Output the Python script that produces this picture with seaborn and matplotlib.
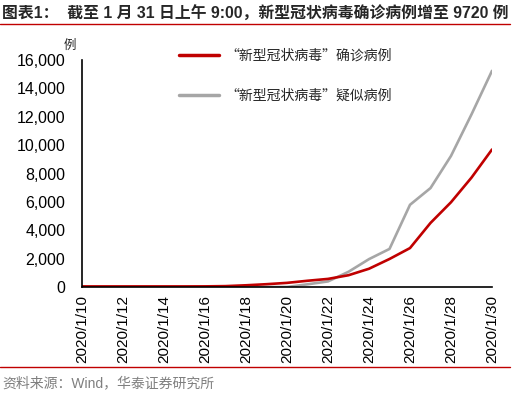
import numpy as np
import pandas as pd
import matplotlib
matplotlib.use("Agg")
import matplotlib.pyplot as plt
import seaborn as sns
from matplotlib.lines import Line2D

# dates shown on x axis
dates = ["2020/1/%d" % d for d in range(10, 31)]

# confirmed cases
confirmed = [41, 41, 41, 41, 41, 41, 45, 62, 121, 198, 291,
             440, 571, 830, 1287, 1975, 2744, 4515, 5974, 7711, 9692]

# suspected cases
suspected = [0, 0, 0, 0, 0, 0, 0, 0, 0, 0, 0,
             190, 393, 1072, 1965, 2684, 5794, 6973, 9239, 12167, 15238]

label_confirmed = "\u201c新型冠状病毒\u201d确诊病例"
label_suspected = "\u201c新型冠状病毒\u201d疑似病例"

df = pd.DataFrame({"idx": np.arange(len(dates)),
                   "confirmed": confirmed,
                   "suspected": suspected})

sns.set_style("white")
plt.rcParams['font.family'] = ['Liberation Sans', 'Noto Sans CJK SC', 'DejaVu Sans']

fig = plt.figure(figsize=(5.14, 3.93), dpi=100)
ax = fig.add_axes([82 / 514, 1 - 287 / 393, 410 / 514, 227 / 393])

red = "#C00000"
grey = "#A6A6A6"

# gray first so red sits on top
sns.lineplot(data=df, x="idx", y="suspected", ax=ax, color=grey, linewidth=1.9)
sns.lineplot(data=df, x="idx", y="confirmed", ax=ax, color=red, linewidth=1.9)

ax.set_xlim(0, len(dates) - 1)
ax.set_ylim(0, 16000)
ax.set_yticks(np.arange(0, 16001, 2000))
ax.set_yticklabels(["{:,}".format(v) for v in range(0, 16001, 2000)], fontsize=11.5)
ax.set_xticks(np.arange(0, len(dates), 2))
ax.set_xticklabels(dates[::2], rotation=90, fontsize=11)
ax.set_xlabel("")
ax.set_ylabel("")

for s in ["top", "right"]:
    ax.spines[s].set_visible(False)
for s in ["left", "bottom"]:
    ax.spines[s].set_color("black")
    ax.spines[s].set_linewidth(1.2)
ax.tick_params(axis="both", direction="out", length=4, width=1.2, color="black",
               labelcolor="black", pad=2)
ax.tick_params(axis="y", pad=8)

ax.text(-0.03, 1.066, "例", transform=ax.transAxes, fontsize=9,
        ha="center", va="center", family=['Noto Sans CJK SC'])

handles = [Line2D([], [], color=red, linewidth=2.5),
           Line2D([], [], color=grey, linewidth=2.5)]
fig.legend(handles, [label_confirmed, label_suspected], loc="upper left",
           bbox_to_anchor=(166 / 514, 1 - 36 / 393), frameon=False,
           handlelength=2.9, handletextpad=0.5, labelspacing=1.9,
           prop={'family': ['Noto Sans CJK SC'], 'size': 10})

# title and rules
fig.text(0.004, 1 - 14 / 393, "图表1：  截至 1 月 31 日上午 9:00，新型冠状病毒确诊病例增至 9720 例",
         fontsize=11.4, fontweight="bold", ha="left", va="center",
         family=['Liberation Sans', 'Noto Sans CJK SC'])
fig.add_artist(Line2D([0.0, 510 / 514], [1 - 24 / 393] * 2, color=red, linewidth=1))
fig.add_artist(Line2D([0.0, 510 / 514], [1 - 367 / 393] * 2, color=red, linewidth=1))
fig.text(0.004, 1 - 383 / 393, "资料来源：Wind，华泰证券研究所", fontsize=10,
         color="#7F7F7F", ha="left", va="center",
         family=['Liberation Sans', 'Noto Sans CJK SC'])

fig.savefig("out.png", dpi=100)
